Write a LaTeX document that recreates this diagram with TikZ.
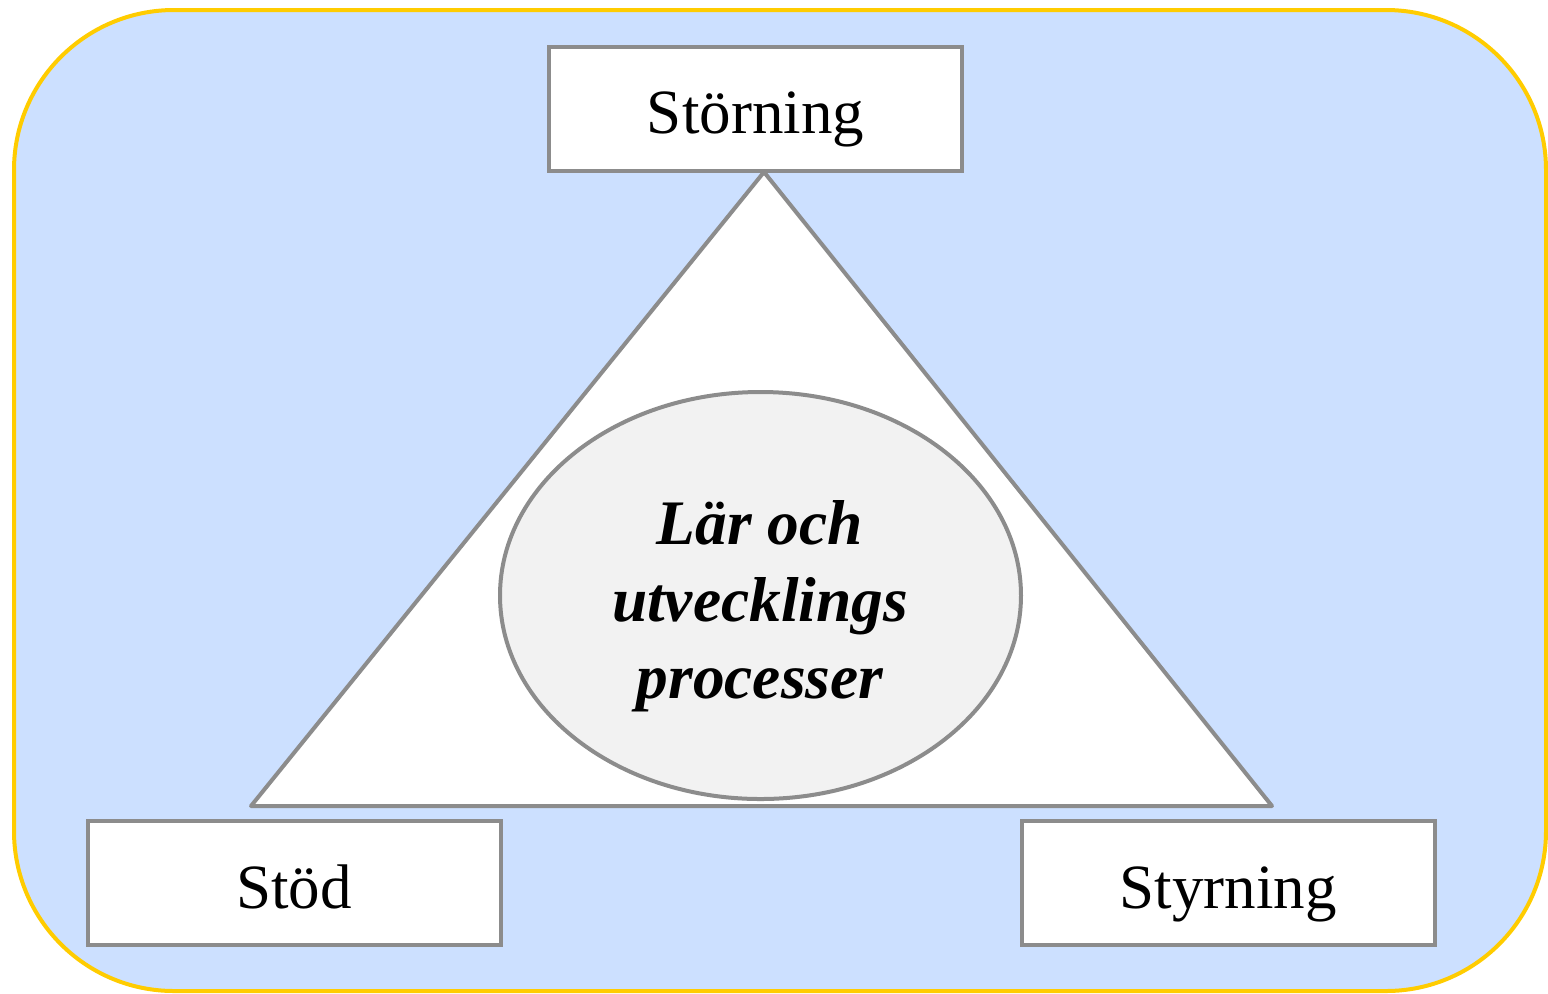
\documentclass[tikz,border=0pt]{standalone}
\usepackage{fontspec}
\setmainfont{Liberation Serif}
\definecolor{bgblue}{HTML}{CCE0FF}
\definecolor{frameyellow}{HTML}{FFCC00}
\definecolor{linegray}{HTML}{8C8C8C}
\definecolor{ellfill}{HTML}{F2F2F2}
\begin{document}
\begin{tikzpicture}[x=0.5pt,y=-0.5pt,
  box/.style={draw=linegray,line width=2pt,fill=white,rectangle,minimum width=206.5pt,minimum height=62pt,inner sep=0pt},
  lbl/.style={font=\fontsize{31.5}{38.5}\selectfont,anchor=base,inner sep=0pt},
  centertext/.style={font=\fontsize{31.7}{38.5}\selectfont\bfseries\itshape,align=center,inner sep=0pt}]
\useasboundingbox (0,0) rectangle (1548,993);
% outer frame
\draw[frameyellow,line width=2pt,fill=bgblue,rounded corners=80pt] (14,10) rectangle (1546,991);
% triangle
\coordinate (apex) at (764,172);
\coordinate (bl) at (251,806);
\coordinate (br) at (1272,806);
\draw[linegray,line width=2pt,fill=white,line join=round] (apex) -- (br) -- (bl) -- cycle;
% ellipse
\draw[linegray,line width=2pt,fill=ellfill] (760.5,595.5) ellipse [x radius=260.5, y radius=-203.5];
\node[centertext] (center) at (760,606) {Lär och\\utvecklings\\processer};
% boxes
\node[box] (storning) at (755.5,109) {};
\node[lbl] (storningtxt) at (755.5,133) {Störning};
\node[box] (stod) at (294,883) {};
\node[lbl] (stodtxt) at (294,908) {Stöd};
\node[box] (styrning) at (1228,883) {};
\node[lbl] (styrningtxt) at (1228,908) {Styrning};
\end{tikzpicture}
\end{document}
